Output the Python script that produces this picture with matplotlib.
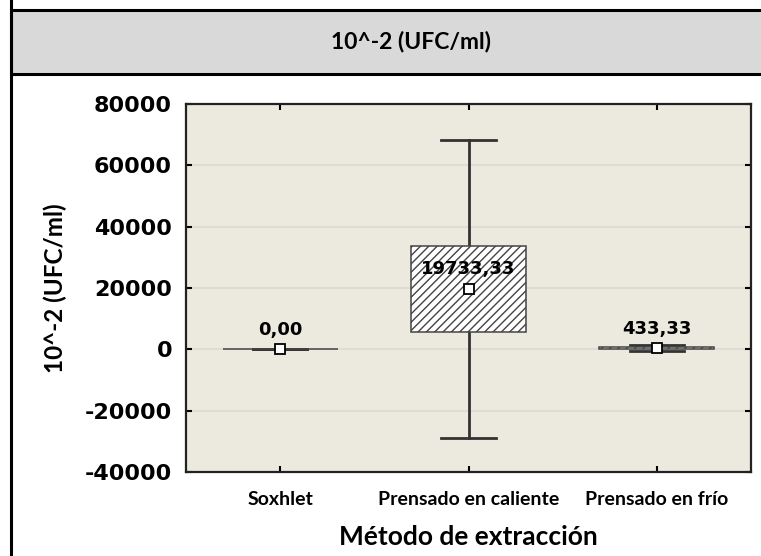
import matplotlib.pyplot as plt
from matplotlib.patches import Rectangle

# extraction method results, 10^-2 dilution (UFC/ml)
categories = ['Soxhlet', 'Prensado en caliente', 'Prensado en frío']
means = [0.0, 19733.33, 433.33]
box_low = [0.0, 5700.0, 233.0]
box_high = [0.0, 33766.0, 633.0]
whisker_low = [0.0, -28900.0, -567.0]
whisker_high = [0.0, 68366.0, 1433.0]
mean_labels = ['0,00', '19733,33', '433,33']
yticks = [-40000, -20000, 0, 20000, 40000, 60000, 80000]

W, H = 761, 556
fig = plt.figure(figsize=(W / 100, H / 100), dpi=100)

# header band and outer frame
fig.add_artist(Rectangle((11 / W, 1 - 74 / H), 1.2, 64 / H, transform=fig.transFigure,
                         facecolor='#d9d9d9', edgecolor='black', linewidth=2.2, zorder=0))
fig.add_artist(Rectangle((11 / W, -0.2), 1.2, 1.2 + (1 - 10 / H), transform=fig.transFigure,
                         facecolor='none', edgecolor='black', linewidth=2.2, zorder=0))
fig.text(411 / W, 1 - 42 / H, '10^-2 (UFC/ml)', ha='center', va='center',
         fontsize=16.5, fontweight='bold', family='Lato')

ax = fig.add_axes([186 / W, 1 - 472 / H, (751 - 186) / W, (472 - 104) / H])
ax.set_facecolor('#ece9df')

x = [1, 2, 3]
for i in range(len(categories)):
    # whisker with caps
    ax.plot([x[i], x[i]], [whisker_low[i], whisker_high[i]], color='#333333', lw=2, zorder=2)
    for w in (whisker_low[i], whisker_high[i]):
        ax.plot([x[i] - 0.145, x[i] + 0.145], [w, w], color='#333333', lw=2, zorder=2)

# hatched boxes
ax.bar(x, [h - l for h, l in zip(box_high, box_low)], bottom=box_low, width=0.61,
       facecolor='white', edgecolor='#444444', hatch='////', linewidth=1.1, zorder=3)
ax.plot(x, means, 's', markersize=7.5, markerfacecolor='white', markeredgecolor='black',
        markeredgewidth=1.3, zorder=5)

for i in range(len(categories)):
    ax.annotate(mean_labels[i], (x[i], means[i]), xytext=(0, 14), textcoords='offset points',
                ha='center', va='center', fontsize=13, fontweight='bold', zorder=6)

ax.set_xlim(0.5, 3.5)
ax.set_ylim(-40000, 80000)
ax.set_yticks(yticks)
ax.set_yticklabels([str(v) for v in yticks], fontsize=16, fontweight='bold')
ax.set_xticks(x)
ax.set_xticklabels(categories, fontsize=14, fontweight='bold', family='Lato')
ax.grid(axis='y', color='#dcdad2', linewidth=1.2)
ax.set_axisbelow(True)
ax.tick_params(direction='in', top=True, right=True, length=4, width=1.5)
ax.tick_params(axis='y', pad=10)
ax.tick_params(axis='x', pad=14)
for s in ax.spines.values():
    s.set_linewidth(1.6)
    s.set_color('#222222')

ax.set_ylabel('10^-2 (UFC/ml)', fontsize=17.5, fontweight='bold', family='Lato')
ax.yaxis.set_label_coords((55 - 186) / 565, 0.5)
ax.set_xlabel('Método de extracción', fontsize=19, fontweight='bold', family='Lato')
ax.xaxis.set_label_coords(0.5, -(537 - 472) / 368)
ax.xaxis.label.set_va('center')
ax.yaxis.label.set_va('center')

fig.savefig('out.png', dpi=100)
